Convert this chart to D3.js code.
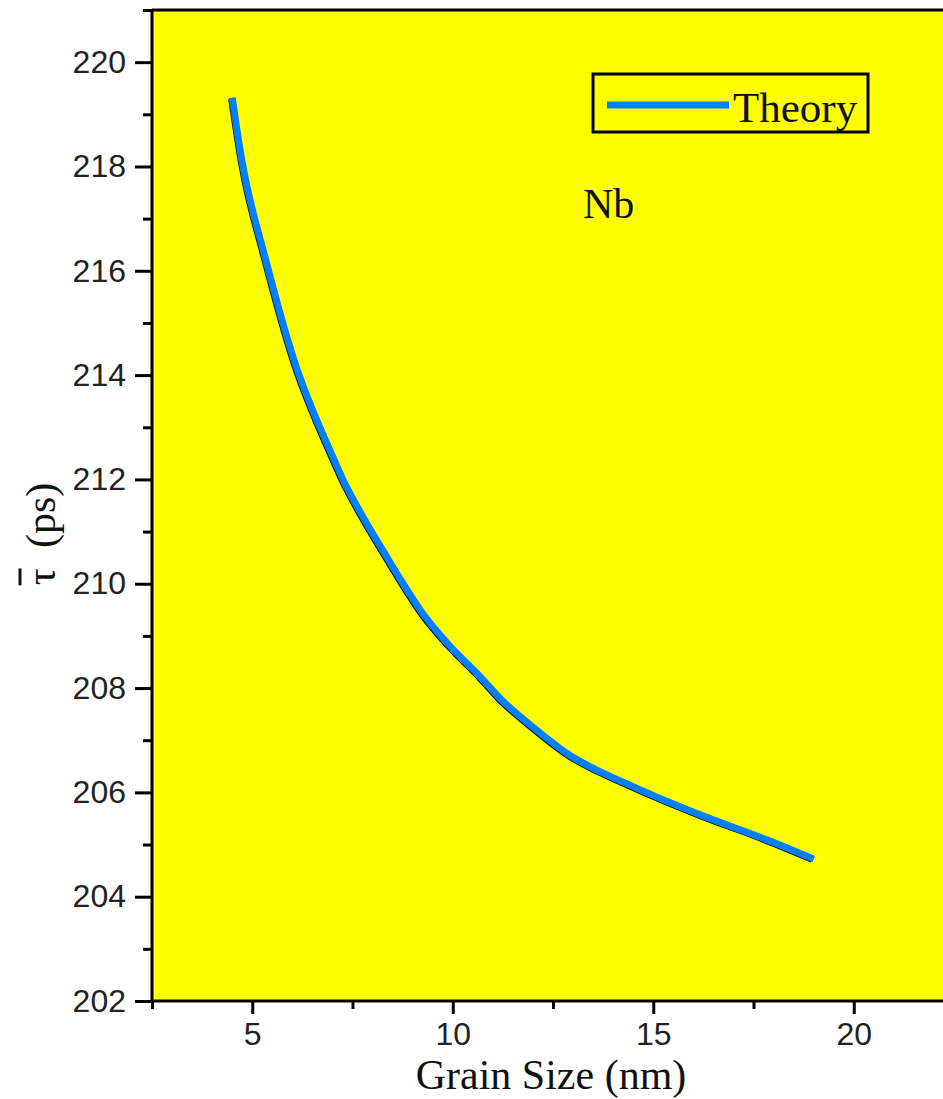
<!DOCTYPE html>
<html>
<head>
<meta charset="utf-8">
<script src="https://cdn.jsdelivr.net/npm/d3@7"></script>
<style>
  html, body { margin: 0; padding: 0; background: #ffffff; }
  svg { display: block; }
</style>
</head>
<body>
<svg id="chart" width="943" height="1099"></svg>
<script>
// Mean positron lifetime in Nb versus grain size (theory curve)
const grainSize = [4.5, 4.74, 5.34, 6.04, 6.98, 7.26, 7.79, 8.27, 8.73, 9.25, 9.91, 10.68, 11.18, 12.0, 12.84, 14.5, 16.17, 17.83, 19.0];
const lifetime  = [219.32, 218.12, 216.2, 214.29, 212.48, 212.0, 211.24, 210.62, 210.04, 209.43, 208.82, 208.22, 207.8, 207.25, 206.75, 206.11, 205.57, 205.09, 204.72];

const xMajorTicks = [5, 10, 15, 20];
const xMinorTicks = [2.5, 7.5, 12.5, 17.5];
const yMajorTicks = [202, 204, 206, 208, 210, 212, 214, 216, 218, 220];
const yMinorTicks = [203, 205, 207, 209, 211, 213, 215, 217, 219, 221];

const seriesName = "Theory";
const elementLabel = "Nb";

const svg = d3.select("#chart");
const plotLeft = 152, plotBottom = 1001, plotTop = 10, plotRight = 954;

const x = d3.scaleLinear().domain([2.5, 22.5]).range([plotLeft, plotRight]);
const y = d3.scaleLinear().domain([202, 221]).range([plotBottom, plotTop]);

// plot background
svg.append("rect")
  .attr("x", plotLeft).attr("y", plotTop)
  .attr("width", plotRight - plotLeft).attr("height", plotBottom - plotTop)
  .attr("fill", "#ffff00");

const tickFont = "'Liberation Sans', Arial, sans-serif";
const serif = "'Liberation Serif', 'Times New Roman', serif";

// y axis (left)
const yAxis = svg.append("g").attr("transform", `translate(${plotLeft},0)`)
  .call(d3.axisLeft(y).tickValues(yMajorTicks).tickSize(17).tickPadding(9).tickFormat(d3.format("d")));
yAxis.selectAll(".tick line").attr("stroke", "#000").attr("stroke-width", 3);
yAxis.selectAll(".tick text").attr("font-family", tickFont).attr("font-size", 32).attr("fill", "#222");
yAxis.select(".domain").remove();
const yMinor = svg.append("g").attr("transform", `translate(${plotLeft},0)`)
  .call(d3.axisLeft(y).tickValues(yMinorTicks).tickSize(9).tickFormat(""));
yMinor.selectAll(".tick line").attr("stroke", "#000").attr("stroke-width", 3);
yMinor.select(".domain").remove();

// x axis (bottom)
const xAxis = svg.append("g").attr("transform", `translate(0,${plotBottom})`)
  .call(d3.axisBottom(x).tickValues(xMajorTicks).tickSize(13).tickPadding(8).tickFormat(d3.format("d")));
xAxis.selectAll(".tick line").attr("stroke", "#000").attr("stroke-width", 3);
xAxis.selectAll(".tick text").attr("font-family", tickFont).attr("font-size", 32).attr("fill", "#222");
xAxis.select(".domain").remove();
const xMinor = svg.append("g").attr("transform", `translate(0,${plotBottom})`)
  .call(d3.axisBottom(x).tickValues(xMinorTicks).tickSize(8).tickFormat(""));
xMinor.selectAll(".tick line").attr("stroke", "#000").attr("stroke-width", 3);
xMinor.select(".domain").remove();

// frame lines
const frame = svg.append("g").attr("stroke", "#000").attr("stroke-width", 3).attr("fill", "none");
frame.append("line").attr("x1", plotLeft).attr("x2", plotLeft).attr("y1", plotTop).attr("y2", plotBottom);
frame.append("line").attr("x1", plotLeft).attr("x2", plotRight).attr("y1", plotBottom).attr("y2", plotBottom);
frame.append("line").attr("x1", plotLeft).attr("x2", plotRight).attr("y1", plotTop).attr("y2", plotTop);
frame.append("line").attr("x1", plotRight).attr("x2", plotRight).attr("y1", plotTop).attr("y2", plotBottom);

// theory curve (thin dark shadow underneath, blue line on top)
const pts = grainSize.map((g, i) => [g, lifetime[i]]);
const line = d3.line().x(d => x(d[0])).y(d => y(d[1])).curve(d3.curveMonotoneX);

svg.append("path").datum(pts)
  .attr("d", line)
  .attr("fill", "none")
  .attr("stroke", "#000")
  .attr("stroke-width", 4)
  .attr("transform", "translate(-2,1.5)");
svg.append("path").datum(pts)
  .attr("d", line)
  .attr("fill", "none")
  .attr("stroke", "#0080ff")
  .attr("stroke-width", 7)
  .attr("stroke-linejoin", "round");

// legend
const legend = svg.append("g");
legend.append("rect")
  .attr("x", 593).attr("y", 74).attr("width", 275).attr("height", 58)
  .attr("fill", "none").attr("stroke", "#000").attr("stroke-width", 3);
legend.append("line")
  .attr("x1", 607).attr("x2", 729).attr("y1", 105).attr("y2", 105)
  .attr("stroke", "#0080ff").attr("stroke-width", 7);
legend.append("text")
  .attr("x", 733).attr("y", 122)
  .attr("font-family", serif).attr("font-size", 43).attr("fill", "#111")
  .text(seriesName);

// element label
svg.append("text")
  .attr("x", 583).attr("y", 218)
  .attr("font-family", serif).attr("font-size", 42).attr("fill", "#111")
  .text(elementLabel);

// x axis title
svg.append("text")
  .attr("x", 551).attr("y", 1089)
  .attr("text-anchor", "middle")
  .attr("font-family", serif).attr("font-size", 42).attr("fill", "#111")
  .text("Grain Size (nm)");

// y axis title: mean lifetime with overbar
const yTitle = svg.append("g").attr("transform", "translate(55,534) rotate(-90)");
const yText = yTitle.append("text")
  .attr("x", 0).attr("y", 0)
  .attr("text-anchor", "middle")
  .attr("font-family", serif).attr("font-size", 42).attr("fill", "#111");
const tau = yText.append("tspan").text("τ");
yText.append("tspan").attr("dx", 10).text(" (ps)");
const tb = tau.node().getBBox();
yTitle.append("line")
  .attr("x1", tb.x).attr("x2", tb.x + tb.width)
  .attr("y1", tb.y + 2).attr("y2", tb.y + 2)
  .attr("stroke", "#111").attr("stroke-width", 3);
</script>
</body>
</html>
